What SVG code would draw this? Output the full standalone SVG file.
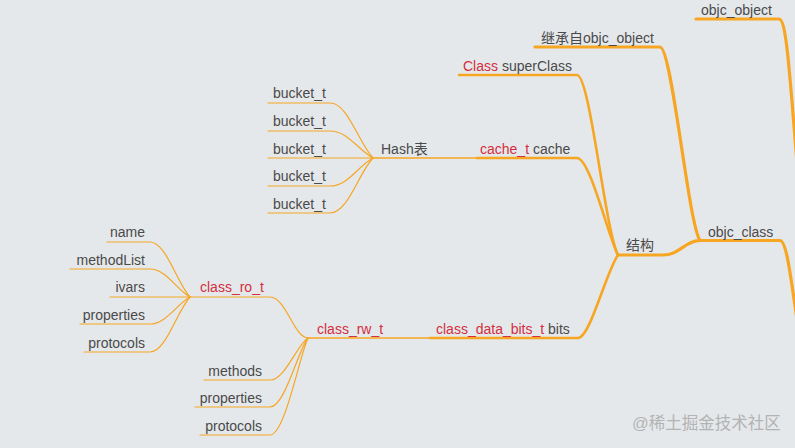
<svg xmlns="http://www.w3.org/2000/svg" width="795" height="448" viewBox="0 0 795 448">
<style>
text{font-family:"Liberation Sans","Noto Sans CJK SC",Arial,sans-serif;font-size:14px;fill:#4a4a4a}
.r{fill:#d32f3f}
.end{text-anchor:end}
path{fill:none;stroke:#f6a623;stroke-linecap:round;stroke-linejoin:round}
.w1{stroke-width:3.2}
.w2{stroke-width:2.6}
.w3{stroke-width:1.6}
.w4{stroke-width:1.2}
.wm{fill:#b3b3b3;font-size:16.5px}
</style>
<rect width="795" height="448" fill="#e5e8eb"/>
<g id="connectors">
<path class="w1" d="M696,19 H779 C787,19 790,80 800,200"/>
<path class="w1" d="M700,240.5 H780 C787,240.5 791,280 800,340"/>
<path class="w1" d="M535,47 H660 C672,47 688,222 700,240.5"/>
<path class="w1" d="M618,255 H663 C680,255 685,240.5 700,240.5"/>
<path class="w2" d="M459,75 H577 C590,75 605,230 618,255"/>
<path class="w2" d="M477,158 H577 C590,158 608,236 618,255"/>
<path class="w2" d="M430,338 H578 C590,338 606,272 618,255"/>
<path class="w3" d="M373,158 H477"/>
<path class="w3" d="M308,338 H430"/>
<path class="w4" d="M268,103 H330 C348,103 358,142 373,158"/>
<path class="w4" d="M268,131 H330 C348,131 358,150 373,158"/>
<path class="w4" d="M268,158 H373"/>
<path class="w4" d="M268,186 H330 C348,186 358,166 373,158"/>
<path class="w4" d="M268,213 H330 C348,213 358,174 373,158"/>
<path class="w4" d="M190,297 H270 C286,297 294,338 308,338"/>
<path class="w4" d="M107,242 H150 C166,242 177,283 190,297"/>
<path class="w4" d="M70,269 H150 C166,269 177,290 190,297"/>
<path class="w4" d="M110,297 H190"/>
<path class="w4" d="M80,324 H150 C166,324 177,304 190,297"/>
<path class="w4" d="M84,352 H150 C166,352 177,311 190,297"/>
<path class="w4" d="M204,380 H270 C285,380 296,346 308,338"/>
<path class="w4" d="M195,407 H270 C285,407 298,350 308,338"/>
<path class="w4" d="M200,435 H270 C285,435 300,354 308,338"/>
</g>
<g id="objc_object"><text x="701" y="15">objc_object</text></g>
<g id="objc_class"><text x="708" y="237">objc_class</text></g>
<g id="inherit"><text x="541" y="43">继承自objc_object</text></g>
<g id="struct"><text x="626" y="250">结构</text></g>
<g id="superClass"><text x="463" y="71"><tspan class="r">Class</tspan> superClass</text></g>
<g id="cache"><text x="480" y="154"><tspan class="r">cache_t</tspan> cache</text></g>
<g id="bits"><text x="436" y="334"><tspan class="r">class_data_bits_t</tspan> bits</text></g>
<g id="hash"><text x="381" y="154">Hash表</text></g>
<g id="bucket1"><text x="273" y="98">bucket_t</text></g>
<g id="bucket2"><text x="273" y="126">bucket_t</text></g>
<g id="bucket3"><text x="273" y="154">bucket_t</text></g>
<g id="bucket4"><text x="273" y="181">bucket_t</text></g>
<g id="bucket5"><text x="273" y="209">bucket_t</text></g>
<g id="class_ro_t"><text class="r" x="200" y="292">class_ro_t</text></g>
<g id="class_rw_t"><text class="r" x="317" y="334">class_rw_t</text></g>
<g id="ro_name"><text class="end" x="145" y="237">name</text></g>
<g id="ro_methodList"><text class="end" x="145" y="265">methodList</text></g>
<g id="ro_ivars"><text class="end" x="145" y="292">ivars</text></g>
<g id="ro_properties"><text class="end" x="145" y="320">properties</text></g>
<g id="ro_protocols"><text class="end" x="145" y="348">protocols</text></g>
<g id="rw_methods"><text class="end" x="262" y="376">methods</text></g>
<g id="rw_properties"><text class="end" x="262" y="403">properties</text></g>
<g id="rw_protocols"><text class="end" x="262" y="431">protocols</text></g>
<text class="wm" x="632" y="429">@稀土掘金技术社区</text>
</svg>
